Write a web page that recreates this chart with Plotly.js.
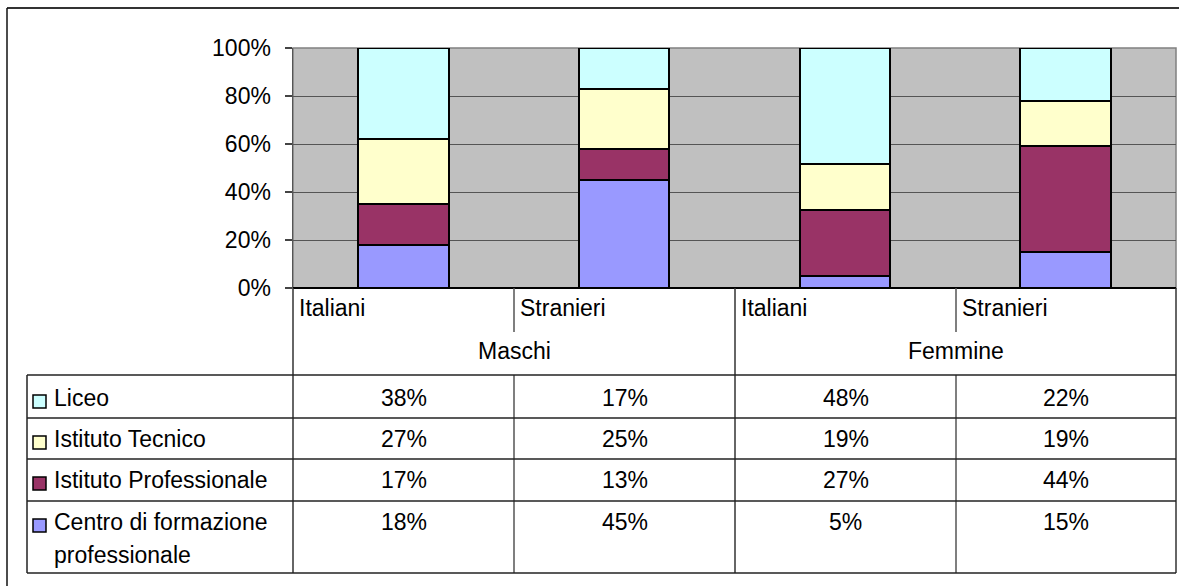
<!DOCTYPE html>
<html>
<head>
<meta charset="utf-8">
<script src="https://cdn.plot.ly/plotly-3.0.1.min.js"></script>
<style>html,body{margin:0;padding:0;background:#fff;}#chart{width:1179px;height:586px;}</style>
</head>
<body>
<div id="chart"></div>
<script>
// ---- data ----
const subgroups = ['Italiani', 'Stranieri', 'Italiani', 'Stranieri'];
const groups = ['Maschi', 'Femmine'];
const seriesNames = ['Liceo', 'Istituto Tecnico', 'Istituto Professionale', 'Centro di formazione<br>professionale'];
const liceo = [38, 17, 48, 22];
const tecnico = [27, 25, 19, 19];
const professionale = [17, 13, 27, 44];
const centro = [18, 45, 5, 15];
const yTicks = [0, 20, 40, 60, 80, 100];
const colors = ['#CCFFFF', '#FFFFCC', '#993366', '#9999FF'];

// ---- layout helpers (pixel -> paper) ----
const W = 1179, H = 586;
const px = x => x / W;
const py = y => 1 - y / H;
const FONT = 'Liberation Sans, Arial, Helvetica, sans-serif';
const FS = 23;

const plotL = 293, plotR = 1176, plotT = 48, plotB = 288;
const colEdges = [293, 514, 735, 956, 1176];
const tableL = 27, tableT = 375;
const rowEdges = [375, 418, 459, 501, 573];
const rowCenters = [398, 439, 480, 522];

const allSeries = [liceo, tecnico, professionale, centro];
const xs = subgroups.map((_, i) => i);

// stacking bottom -> top: centro, professionale, tecnico, liceo
const stackOrder = [3, 2, 1, 0];
const traces = stackOrder.map(k => ({
  type: 'bar',
  x: xs,
  y: allSeries[k],
  name: seriesNames[k],
  width: 0.41,
  marker: {color: colors[k], line: {color: '#000', width: 2}},
  hoverinfo: 'skip'
}));

const shapes = [];
const annotations = [];
function line(x0, y0, x1, y1, color, w) {
  shapes.push({type: 'line', xref: 'paper', yref: 'paper', x0: px(x0), y0: py(y0), x1: px(x1), y1: py(y1),
    line: {color: color, width: w}, layer: 'above'});
}
function text(t, x, y, anchor) {
  annotations.push({text: t, xref: 'paper', yref: 'paper', x: px(x), y: py(y), xanchor: anchor, yanchor: 'middle',
    showarrow: false, font: {family: FONT, size: FS, color: '#000'}});
}

// outer frame
line(7, 8, 1179, 8, '#333', 2);
line(7, 8, 7, 586, '#111', 1.5);

// plot border (gray)
shapes.push({type: 'rect', xref: 'paper', yref: 'paper', x0: px(plotL), y0: py(plotB), x1: px(plotR), y1: py(plotT),
  line: {color: '#808080', width: 1.5}, layer: 'between'});
// bottom axis line
line(plotL, plotB, plotR, plotB, '#000', 2);

// category label area lines
line(plotL, plotB, plotL, rowEdges[4], '#333', 1.5);
line(colEdges[2], plotB, colEdges[2], rowEdges[4], '#333', 1.5);
line(plotR, plotB, plotR, rowEdges[4], '#333', 1.5);
line(colEdges[1], plotB, colEdges[1], 332, '#555', 1.5);
line(colEdges[3], plotB, colEdges[3], 332, '#555', 1.5);
line(colEdges[1], tableT, colEdges[1], rowEdges[4], '#555', 1.5);
line(colEdges[3], tableT, colEdges[3], rowEdges[4], '#555', 1.5);
// table horizontals
rowEdges.forEach(y => line(tableL, y, plotR, y, '#222', 1.5));
line(tableL, tableT, tableL, rowEdges[4], '#222', 1.5);

// category labels
subgroups.forEach((s, i) => text(s, colEdges[i] + 4, 308, 'left'));
groups.forEach((g, i) => text(g, (colEdges[2 * i] + colEdges[2 * i + 2]) / 2, 351, 'center'));

// table rows
seriesNames.forEach((name, k) => {
  const yc = rowCenters[k];
  shapes.push({type: 'rect', xref: 'paper', yref: 'paper', x0: px(33), x1: px(46), y0: py(yc - 3), y1: py(yc + 10),
    fillcolor: colors[k], line: {color: '#000', width: 1.5}, layer: 'above'});
  name.split('<br>').forEach((part, j) => text(part, 52, yc + j * 33, 'left'));
  allSeries[k].forEach((v, i) => text(v + '%', (colEdges[i] + colEdges[i + 1]) / 2, yc, 'center'));
});

const layout = {
  width: W, height: H,
  margin: {l: 0, r: 0, t: 0, b: 0},
  paper_bgcolor: '#fff',
  plot_bgcolor: '#C0C0C0',
  barmode: 'stack',
  barnorm: 'percent',
  bargap: 0,
  showlegend: false,
  font: {family: FONT, size: FS, color: '#000'},
  xaxis: {domain: [px(plotL), px(plotR)], range: [-0.5, 3.5], showticklabels: false, showgrid: false,
    zeroline: false, showline: false, ticks: '', fixedrange: true},
  yaxis: {domain: [py(plotB), py(plotT)], range: [0, 100], tickvals: yTicks, ticktext: yTicks.map(v => v + '%'),
    showgrid: true, gridcolor: '#555', gridwidth: 1, zeroline: false, showline: true, linecolor: '#555', linewidth: 1.5,
    ticks: 'outside', ticklen: 7, tickcolor: '#444', tickwidth: 1.5, ticklabelstandoff: 9,
    tickfont: {family: FONT, size: FS, color: '#000'}, fixedrange: true},
  shapes: shapes,
  annotations: annotations
};

Plotly.newPlot('chart', traces, layout, {displayModeBar: false, staticPlot: true});
</script>
</body>
</html>
